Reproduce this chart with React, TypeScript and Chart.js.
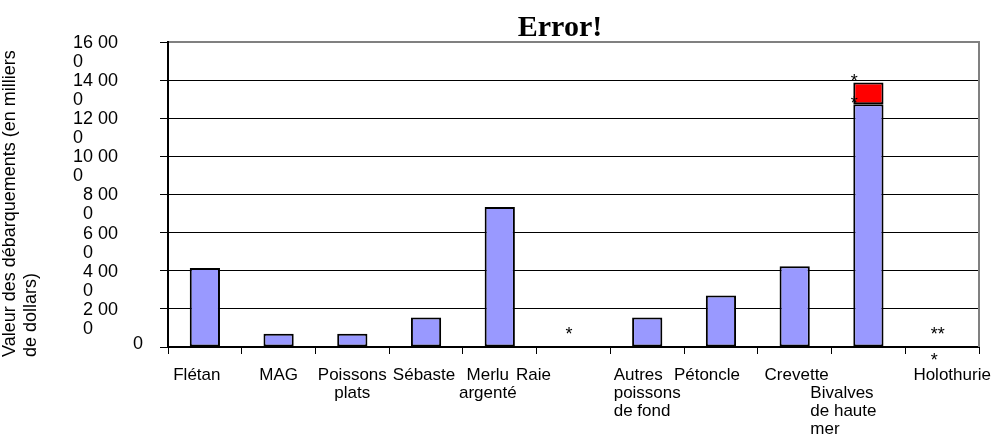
import React, { useEffect, useRef } from "react";
import { Chart, registerables } from "chart.js";

Chart.register(...registerables);

// ---- data ----
const categories: string[][] = [
  ["Flétan"],
  ["MAG"],
  ["Poissons", "plats"],
  ["Sébaste"],
  ["Merlu", "argenté"],
  ["Raie"],
  ["Autres", "poissons", "de fond"],
  ["Pétoncle"],
  ["Crevette"],
  ["Bivalves", "de haute", "mer"],
  ["Holothurie"],
];
const mainValues = [4150, 700, 700, 1550, 7350, 0, 1550, 2700, 4230, 12730, 0];
const topValues = [0, 0, 0, 0, 0, 0, 0, 0, 0, 1150, 0];
const mainNotes = ["", "", "", "", "", "*", "", "", "", "*", "**\n*"];
const topNotes = ["", "", "", "", "", "", "", "", "", "*", ""];
const yTickValues = [0, 2000, 4000, 6000, 8000, 10000, 12000, 14000, 16000];
const yTickLabels = ["0", "2 000", "4 000", "6 000", "8 000", "10 000", "12 000", "14 000", "16 000"];
const yAxisTitle = ["Valeur des débarquements (en milliers", "de dollars)"];
const chartTitle = "Error!";

// ---- layout / style (label placement as laid out in the original) ----
const FONT = '18px "Liberation Sans", Arial, sans-serif';
const XFONT = '17px "Liberation Sans", Arial, sans-serif';
const xLabelRowOffset = [0, 0, 0, 0, 0, 0, 0, 0, 0, 1, 0];
const xLabelLeftAligned = [false, false, false, false, false, false, true, false, false, true, false];
const xLabelShift = [-8, 0, 0, -2, -12, -40, 0, -14, 2, -25, 10];

const overlay = {
  id: "overlay",
  afterDraw(chart: any) {
    const ctx: CanvasRenderingContext2D = chart.ctx;
    const area = chart.chartArea;
    const xs = chart.scales.x;
    const ys = chart.scales.y;
    ctx.save();

    // plot-area border (top & right) in grey
    ctx.strokeStyle = "#808080";
    ctx.lineWidth = 2;
    ctx.beginPath();
    ctx.moveTo(area.left + 1, area.top);
    ctx.lineTo(area.right, area.top);
    ctx.lineTo(area.right, area.bottom);
    ctx.stroke();

    ctx.fillStyle = "#000";

    // title
    ctx.font = 'bold 30px "Liberation Serif", "Times New Roman", serif';
    ctx.textAlign = "center";
    ctx.textBaseline = "alphabetic";
    ctx.fillText(chartTitle, 560, 36);

    // y tick labels (wrapped like the original)
    ctx.font = FONT;
    ctx.textBaseline = "middle";
    yTickValues.forEach((v, i) => {
      const y = ys.getPixelForValue(v);
      const s = yTickLabels[i];
      if (s.length <= 1) {
        ctx.textAlign = "right";
        ctx.fillText(s, area.left - 25, y - 3);
      } else {
        const l1 = s.slice(0, -1);
        const l2 = s.slice(-1);
        ctx.textAlign = "right";
        ctx.fillText(l1, area.left - 50, y + 1);
        const w = ctx.measureText(l1).width;
        ctx.textAlign = "left";
        ctx.fillText(l2, area.left - 50 - w, y + 20);
      }
    });

    // y axis title
    ctx.textBaseline = "alphabetic";
    ctx.textAlign = "left";
    const titleX = [15, 36];
    yAxisTitle.forEach((line, i) => {
      ctx.save();
      ctx.translate(titleX[i], 357);
      ctx.rotate(-Math.PI / 2);
      ctx.fillText(line, 0, 0);
      ctx.restore();
    });

    // x labels
    ctx.font = XFONT;
    categories.forEach((lines, i) => {
      const cx = xs.getPixelForValue(i) + xLabelShift[i];
      const widths = lines.map((l) => ctx.measureText(l).width);
      const maxW = Math.max(...widths);
      lines.forEach((line, j) => {
        const y = 380 + (j + xLabelRowOffset[i]) * 18;
        if (xLabelLeftAligned[i]) {
          ctx.textAlign = "left";
          ctx.fillText(line, cx - maxW / 2, y);
        } else {
          ctx.textAlign = "center";
          ctx.fillText(line, cx, y);
        }
      });
    });

    // notes (asterisks)
    ctx.font = FONT;
    const metaMain = chart.getDatasetMeta(0);
    const metaTop = chart.getDatasetMeta(1);
    const zeroY = ys.getPixelForValue(0);
    const drawNote = (note: string, values: number[], meta: any, i: number) => {
      if (!note) return;
      const lines = note.split("\n");
      if (values[i] > 0) {
        const el = meta.data[i];
        ctx.textAlign = "center";
        ctx.fillText(lines[0], el.x - el.width / 2 + 1, el.y + 5);
      } else {
        const cx = xs.getPixelForValue(i) - 4.5;
        const maxW = Math.max(...lines.map((l) => ctx.measureText(l).width));
        ctx.textAlign = "left";
        lines.forEach((l, j) => ctx.fillText(l, cx - maxW / 2, zeroY - 7 + j * 26));
      }
    };
    categories.forEach((_, i) => {
      drawNote(mainNotes[i], mainValues, metaMain, i);
      drawNote(topNotes[i], topValues, metaTop, i);
    });

    ctx.restore();
  },
};

export default function App() {
  const ref = useRef<HTMLCanvasElement>(null);
  useEffect(() => {
    if (!ref.current) return;
    const chart = new Chart(ref.current, {
      type: "bar",
      data: {
        labels: categories.map((c) => c.join(" ")),
        datasets: [
          {
            data: mainValues.map((v) => (v === 0 ? null : v)),
            backgroundColor: "#9999FF",
            borderColor: "#000000",
            borderWidth: 2,
            borderSkipped: false,
            barPercentage: 0.41,
            categoryPercentage: 1,
          },
          {
            data: topValues.map((v) => (v === 0 ? null : v)),
            backgroundColor: "#FF0000",
            borderColor: "#000000",
            borderWidth: 2,
            borderSkipped: false,
            barPercentage: 0.41,
            categoryPercentage: 1,
          },
        ],
      },
      options: {
        responsive: false,
        animation: false,
        layout: { padding: { left: 0, right: 17, top: 42, bottom: 0 } },
        plugins: { legend: { display: false }, tooltip: { enabled: false }, title: { display: false } },
        scales: {
          x: {
            stacked: true,
            offset: true,
            ticks: { display: false },
            grid: { display: true, drawOnChartArea: false, offset: true, tickLength: 7, color: "#000", lineWidth: 1 },
            border: { display: true, color: "#000", width: 2 },
            afterFit: (s: any) => {
              s.height = 100;
            },
          },
          y: {
            stacked: true,
            min: 0,
            max: 16000,
            ticks: { display: false, stepSize: 2000 },
            grid: { color: "#000", lineWidth: 1, tickLength: 8, drawTicks: true },
            border: { display: true, color: "#000", width: 2 },
            afterFit: (s: any) => {
              s.width = 168;
            },
          },
        },
      },
      plugins: [overlay],
    });
    return () => chart.destroy();
  }, []);
  return (
    <div style={{ position: "fixed", left: 0, top: 0, width: 996, height: 447, background: "#fff" }}>
      <canvas ref={ref} width={996} height={447} style={{ display: "block", width: 996, height: 447 }} />
    </div>
  );
}
